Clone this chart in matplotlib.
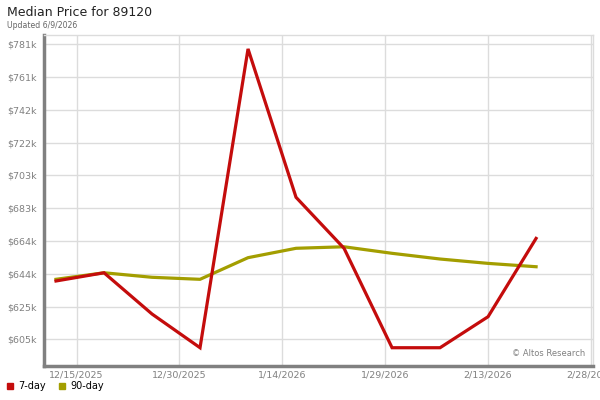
import numpy as np
import pandas as pd
import matplotlib
matplotlib.use('Agg')
import matplotlib.pyplot as plt
import matplotlib.dates as mdates
from matplotlib.lines import Line2D

# weekly data, values in $k
dates = pd.to_datetime(['2025-12-12', '2025-12-19', '2025-12-26', '2026-01-02', '2026-01-09',
                        '2026-01-16', '2026-01-23', '2026-01-30', '2026-02-06', '2026-02-13',
                        '2026-02-20'])
day7 = [639.8, 644.7, 620.1, 600.0, 778.2, 689.7, 659.3, 600.0, 600.0, 618.5, 665.2]
day90 = [640.8, 644.7, 642.0, 640.8, 653.7, 659.3, 660.2, 656.3, 652.9, 650.3, 648.3]

x_ticks = pd.to_datetime(['2025-12-15', '2025-12-30', '2026-01-14', '2026-01-29', '2026-02-13', '2026-02-28'])
y_ticks = np.linspace(605, 781, 10)

red = '#c40c0c'
olive = '#a39e00'
grid_c = '#dcdcdc'

fig = plt.figure(figsize=(6, 4), dpi=100)
ax = fig.add_axes([44 / 600, 1 - 366 / 400, 549 / 600, 331 / 400])

ax.plot(dates, day7, color=red, lw=2.3, solid_joinstyle='miter', zorder=3)
ax.plot(dates, day90, color=olive, lw=2.3, zorder=2)

start = pd.Timestamp('2025-12-15')
ax.set_xlim(start - pd.Timedelta(days=4.75), start + pd.Timedelta(days=75.3))
ax.set_ylim(589.1, 786.5)

ax.set_xticks(x_ticks)
ax.set_xticklabels([d.strftime('%-m/%-d/%Y') for d in x_ticks])
ax.set_yticks(y_ticks)
ax.set_yticklabels([f'${round(v)}k' for v in y_ticks])

ax.tick_params(length=0, colors='#808080', labelsize=6.8)
ax.tick_params(axis='y', pad=5)
ax.tick_params(axis='x', pad=3)

ax.grid(True, color=grid_c, lw=1)
ax.set_axisbelow(True)

for s in ['top', 'right']:
    ax.spines[s].set_color(grid_c)
    ax.spines[s].set_linewidth(1)
for s in ['left', 'bottom']:
    ax.spines[s].set_color('#808080')
    ax.spines[s].set_linewidth(2.5)

ax.text(0.985, 0.025, '\u00a9 Altos Research', transform=ax.transAxes,
        ha='right', va='bottom', fontsize=6, color='#808080')

fig.text(7 / 600, 1 - 13 / 400, 'Median Price for 89120', fontsize=9, color='#222222', va='center')
fig.text(7 / 600, 1 - 25 / 400, 'Updated 6/9/2026', fontsize=5.6, color='#666666', va='center')

handles = [Line2D([], [], color=red, marker='s', ls='', markersize=5),
           Line2D([], [], color=olive, marker='s', ls='', markersize=5)]
fig.legend(handles, ['7-day', '90-day'], loc='lower left', bbox_to_anchor=(-0.005, 0.0),
           ncol=2, frameon=False, fontsize=7, handlelength=0.8, handletextpad=0.5,
           columnspacing=1.2)

fig.savefig('out.png', dpi=100)
